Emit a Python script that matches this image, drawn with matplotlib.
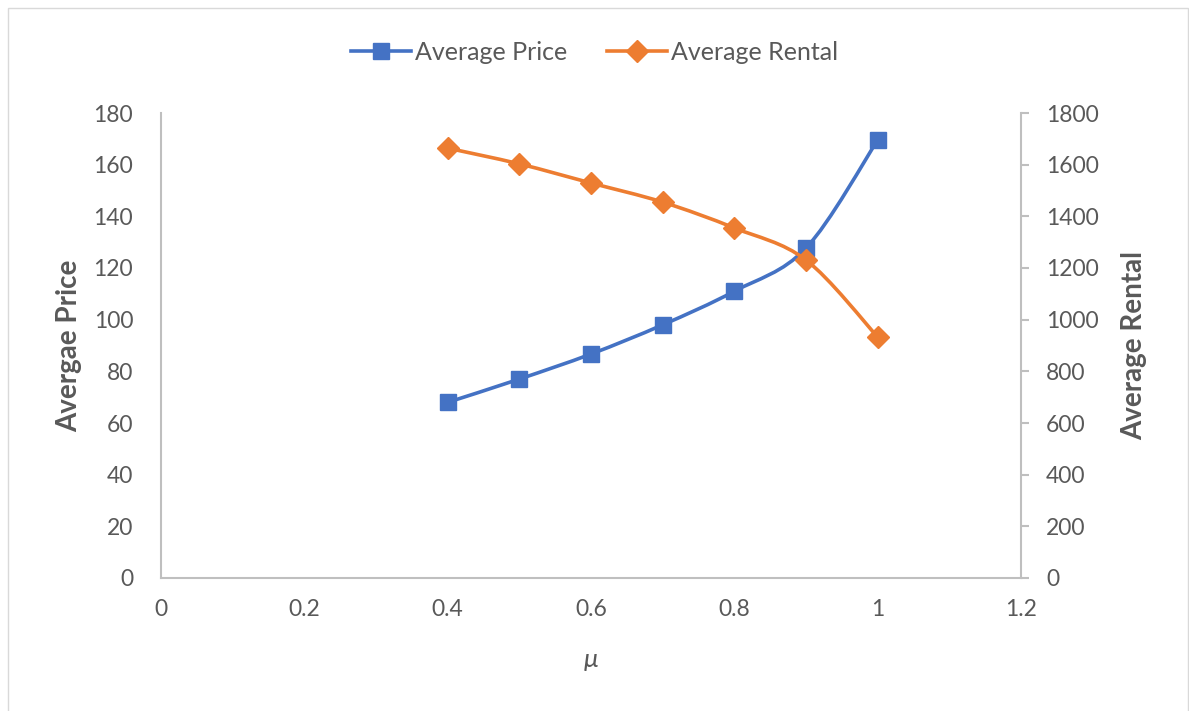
import numpy as np
import matplotlib.pyplot as plt
from matplotlib.path import Path
from matplotlib.patches import PathPatch, Rectangle
from matplotlib.lines import Line2D

mu = [0.4, 0.5, 0.6, 0.7, 0.8, 0.9, 1.0]
avg_price = [68, 77, 86.7, 98, 111, 127.7, 169.5]
avg_rental = [1664, 1603, 1529, 1455, 1355, 1231, 933]

x_ticks = [0, 0.2, 0.4, 0.6, 0.8, 1, 1.2]
x_tick_labels = ["0", "0.2", "0.4", "0.6", "0.8", "1", "1.2"]
price_ticks = list(range(0, 181, 20))
rental_ticks = list(range(0, 1801, 200))

BLUE = "#4472C4"
ORANGE = "#ED7D31"
TEXT = "#595959"
AXIS = "#BFBFBF"

plt.rcParams["font.family"] = ["Lato", "DejaVu Sans"]


def smooth_path(xs, ys, tension=1 / 6):
    """Catmull-Rom style cubic Bezier path through the points."""
    pts = np.column_stack([xs, ys]).astype(float)
    n = len(pts)
    verts = [pts[0]]
    codes = [Path.MOVETO]
    for i in range(n - 1):
        p0 = pts[i - 1] if i > 0 else pts[i]
        p1 = pts[i]
        p2 = pts[i + 1]
        p3 = pts[i + 2] if i + 2 < n else pts[i + 1]
        c1 = p1 + (p2 - p0) * tension
        c2 = p2 - (p3 - p1) * tension
        verts += [c1, c2, p2]
        codes += [Path.CURVE4] * 3
    return Path(verts, codes)


fig = plt.figure(figsize=(11.89, 7.11), dpi=100)
fig.patches.append(Rectangle((8 / 1189, -0.01), 1180 / 1189, 1 - 8 / 711 + 0.01,
                             transform=fig.transFigure, fill=False,
                             edgecolor="#D9D9D9", linewidth=1.0))

ax = fig.add_axes([161 / 1189, 1 - 578 / 711, 860 / 1189, 465 / 711])
ax2 = ax.twinx()

ax.set_xlim(0, 1.2)
ax.set_ylim(0, 180)
ax2.set_ylim(0, 1800)

ax.add_patch(PathPatch(smooth_path(mu, avg_price), facecolor="none",
                       edgecolor=BLUE, linewidth=2.6, zorder=3))
ax.plot(mu, avg_price, linestyle="none", marker="s", markersize=11,
        color=BLUE, zorder=4)

ax2.add_patch(PathPatch(smooth_path(mu, avg_rental), facecolor="none",
                        edgecolor=ORANGE, linewidth=2.6, zorder=3))
ax2.plot(mu, avg_rental, linestyle="none", marker="D", markersize=11.5,
         color=ORANGE, zorder=4)

for a in (ax, ax2):
    for s in a.spines.values():
        s.set_color(AXIS)
        s.set_linewidth(1.5)
    a.spines["top"].set_visible(False)

ax2.spines["left"].set_visible(False)
ax2.spines["bottom"].set_visible(False)
ax.spines["right"].set_visible(False)

ax.set_xticks(x_ticks)
ax.set_xticklabels(x_tick_labels)
ax.set_yticks(price_ticks)
ax2.set_yticks(rental_ticks)

ax.tick_params(axis="x", length=0, pad=15, labelsize=16.5, labelcolor=TEXT)
ax.tick_params(axis="y", length=0, pad=20, labelsize=16.5, labelcolor=TEXT)
ax2.tick_params(axis="y", length=6, width=1.5, color=AXIS, pad=12,
                labelsize=16.5, labelcolor=TEXT)

ax.set_xlabel("μ", fontsize=19, style="italic", color=TEXT, labelpad=20)
ax.set_ylabel("Avergae Price", fontsize=20, fontweight="bold", color=TEXT,
              labelpad=8)
ax2.set_ylabel("Average Rental", fontsize=20, fontweight="bold", color=TEXT,
               labelpad=16)

handles = [
    Line2D([], [], color=BLUE, linewidth=2.6, marker="s", markersize=11),
    Line2D([], [], color=ORANGE, linewidth=2.6, marker="D", markersize=11.5),
]
fig.legend(handles, ["Average Price", "Average Rental"], loc="center",
           bbox_to_anchor=(0.5, 1 - 52 / 711), ncol=2, frameon=False,
           fontsize=18, labelcolor=TEXT, handlelength=2.4, columnspacing=1.6,
           handletextpad=0.15)

fig.savefig("out.png", dpi=100, facecolor="white")
